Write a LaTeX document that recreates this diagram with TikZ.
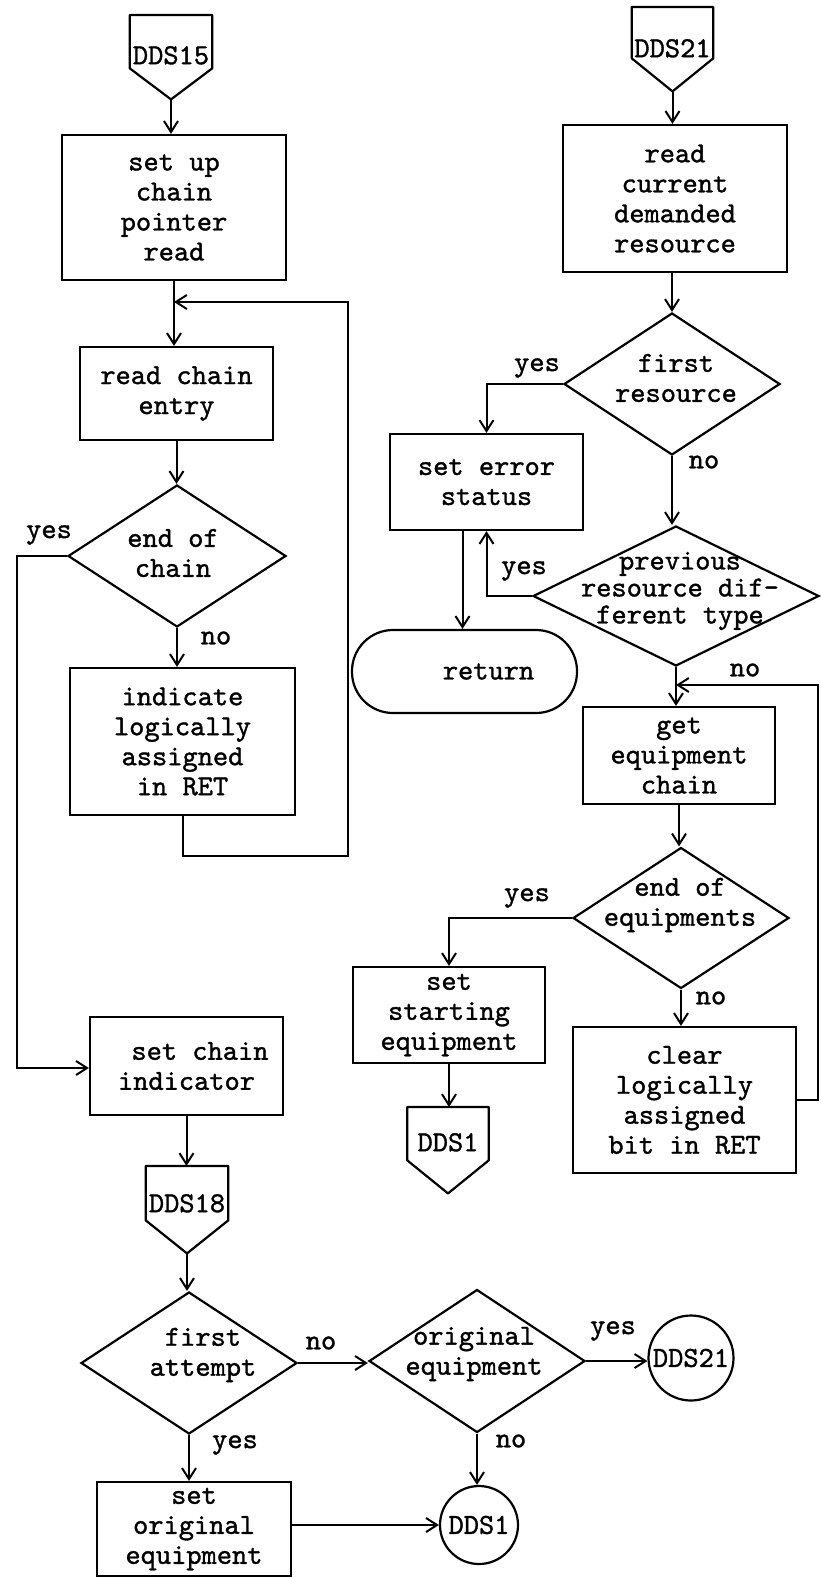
\documentclass[tikz,border=0pt]{standalone}
\usepackage{fontspec}
\setmonofont{lmmono10-regular.otf}[FakeBold=1.2]
\usetikzlibrary{shapes.geometric,arrows.meta,calc}
\begin{document}
\begin{tikzpicture}[x=1pt,y=-1pt,
  every node/.style={font=\fontsize{29pt}{30pt}\selectfont\ttfamily},
  box/.style={draw, line width=2.2pt, rectangle, align=center, inner sep=0pt},
  dia/.style={draw, line width=2.2pt, diamond, inner sep=0pt},
  txt/.style={align=center, inner sep=0pt},
  lbl/.style={inner sep=0pt},
  arr/.style={line width=2pt, -{Straight Barb[length=11pt,width=14pt]}},
  offp/.style={draw=none, inner sep=0pt, anchor=north, align=center},
  outline/.style={line width=2.2pt, line join=round},
  circ/.style={draw, circle, line width=2.2pt, inner sep=0pt}
]
\useasboundingbox (0,0) rectangle (821,1578);

% ---------------- left column ----------------
\node[offp, minimum width=82pt, text height=49pt, text depth=4pt] (d15) at (171,15) {DDS15};
\coordinate (d15t) at ($(d15.south)+(0,31)$);
\draw[outline] (d15.north west) -- (d15.north east) -- (d15.south east) -- (d15t) -- (d15.south west) -- cycle;

\node[box, minimum width=224pt, minimum height=145pt] (b1) at (174,207.5) {set up\\chain\\pointer\\read};
\node[box, minimum width=193pt, minimum height=93pt] (b2) at (176.5,393.5) {read chain\\entry};
\node[dia, minimum width=218pt, minimum height=142pt,
  label={[txt,xshift=-4pt,yshift=3pt]center:{end of\\chain}}] (dd1) at (177,556) {};
\node[box, minimum width=225pt, minimum height=147pt] (b3) at (182.5,741.5) {indicate\\logically\\assigned\\in RET};
\node[box, minimum width=193pt, minimum height=98pt] (b4) at (186.5,1066) {\hspace*{27pt}set chain\\indicator};

\node[offp, minimum width=82pt, text height=46pt, text depth=8pt] (d18) at (187,1166) {DDS18};
\coordinate (d18t) at ($(d18.south)+(0,33)$);
\draw[outline] (d18.north west) -- (d18.north east) -- (d18.south east) -- (d18t) -- (d18.south west) -- cycle;

\node[dia, minimum width=216pt, minimum height=142pt,
  label={[txt,xshift=14pt,yshift=8pt]center:{first\\attempt}}] (dd2) at (189,1363) {};
\node[box, minimum width=194pt, minimum height=94pt] (b5) at (194,1529) {set\\original\\equipment};
\node[dia, minimum width=216pt, minimum height=143pt,
  label={[txt,xshift=-3pt,yshift=7pt]center:{original\\equipment}}] (dd3) at (477,1361) {};
\node[circ, minimum size=85pt] (c1) at (691,1358) {DDS21};
\node[circ, minimum size=78pt] (c2) at (479,1525) {DDS1};

% ---------------- right column ----------------
\node[offp, minimum width=81pt, text height=50pt, text depth=1pt] (d21) at (672.5,7) {DDS21};
\coordinate (d21t) at ($(d21.south)+(0,33)$);
\draw[outline] (d21.north west) -- (d21.north east) -- (d21.south east) -- (d21t) -- (d21.south west) -- cycle;

\node[box, minimum width=224pt, minimum height=147pt] (b6) at (675,198.5) {read\\current\\demanded\\resource};
\node[dia, minimum width=216pt, minimum height=142pt,
  label={[txt,xshift=4pt,yshift=6pt]center:{first\\resource}}] (dd4) at (672,384) {};
\node[box, minimum width=193pt, minimum height=96pt] (b7) at (486.5,482) {set error\\status};
\node[box, rounded corners=41pt, minimum width=225pt, minimum height=83pt] (t1) at (464.5,671.5) {\hspace*{48pt}return};
\node[dia, minimum width=286pt, minimum height=140pt,
  label={[txt,xshift=4pt,yshift=5pt,font={\fontsize{29pt}{27pt}\selectfont\ttfamily}]center:{previous\\resource dif-\\ferent type}}] (dd5) at (676,596) {};
\node[box, minimum width=192pt, minimum height=97pt] (b8) at (679,755.5) {get\\equipment\\chain};
\node[dia, minimum width=216pt, minimum height=141pt,
  label={[txt,xshift=-1pt,yshift=13pt]center:{end of\\equipments}}] (dd6) at (681,918) {};
\node[box, minimum width=192pt, minimum height=96pt] (b9) at (449,1015) {set\\starting\\equipment};

\node[offp, minimum width=81pt, text height=44pt, text depth=9pt] (d1) at (448,1107) {DDS1};
\coordinate (d1t) at ($(d1.south)+(0,33)$);
\draw[outline] (d1.north west) -- (d1.north east) -- (d1.south east) -- (d1t) -- (d1.south west) -- cycle;

\node[box, minimum width=223pt, minimum height=146pt] (b10) at (684.5,1100) {clear\\logically\\assigned\\bit in RET};

% ---------------- connectors (left) ----------------
\coordinate (j1) at (174,302);
\coordinate (k1) at (348,302);
\coordinate (k2) at (17,1068);
\draw[arr] (d15t) -- (d15t |- b1.north);
\draw[arr] (b1.south) -- (b1.south |- b2.north);
\draw[arr] (b3.south) -- ++(0,40) -| (k1) -- (j1);
\draw[arr] (b2.south) -- (b2.south |- dd1.north);
\draw[arr] (dd1.south) -- (dd1.south |- b3.north);
\draw[arr] (dd1.west) -| (k2) -- (k2 -| b4.west);
\draw[arr] (b4.south) -- (b4.south |- d18.north);
\draw[arr] (d18t) -- (d18t |- dd2.north);
\draw[arr] (dd2.east) -- (dd2.east -| dd3.west);
\draw[arr] (dd3.east) -- (dd3.east -| c1.west);
\draw[arr] (dd3.south) -- (dd3.south |- c2.north);
\draw[arr] (dd2.south) -- (dd2.south |- b5.north);
\draw[arr] (b5.east |- c2.west) -- (c2.west);

% ---------------- connectors (right) ----------------
\coordinate (j2) at (676,685);
\coordinate (k3) at (818,685);
\draw[arr] (d21t) -- (d21t |- b6.north);
\draw[arr] (dd4.north |- b6.south) -- (dd4.north);
\draw[arr] (dd4.west) -| (b7.north);
\draw[arr] (dd4.south) -- (dd4.south |- dd5.north);
\draw[arr] (dd5.west) -| (b7.south);
\draw[arr] ([xshift=-24pt]b7.south) -- ([xshift=-24pt]b7.south |- t1.north);
\draw[arr] (dd5.south) -- (dd5.south |- b8.north);
\draw[arr] (b10.east) -| (k3) -- (j2);
\draw[arr] (b8.south) -- (b8.south |- dd6.north);
\draw[arr] (dd6.west) -| (b9.north);
\draw[arr] (dd6.south) -- (dd6.south |- b10.north);
\draw[arr] (b9.south) -- (b9.south |- d1.north);

% ---------------- branch labels ----------------
\node[lbl] (y1) at (49,535) {yes};
\node[lbl] (n1) at (216,638) {no};
\node[lbl] (y2) at (537,368) {yes};
\node[lbl] (n2) at (704,462) {no};
\node[lbl] (y3) at (524,571) {yes};
\node[lbl] (n3) at (745,670) {no};
\node[lbl] (y4) at (527,898) {yes};
\node[lbl] (n4) at (711,998) {no};
\node[lbl] (n5) at (321,1343) {no};
\node[lbl] (y5) at (613,1331) {yes};
\node[lbl] (y6) at (235,1445) {yes};
\node[lbl] (n6) at (511,1441) {no};
\end{tikzpicture}
\end{document}
